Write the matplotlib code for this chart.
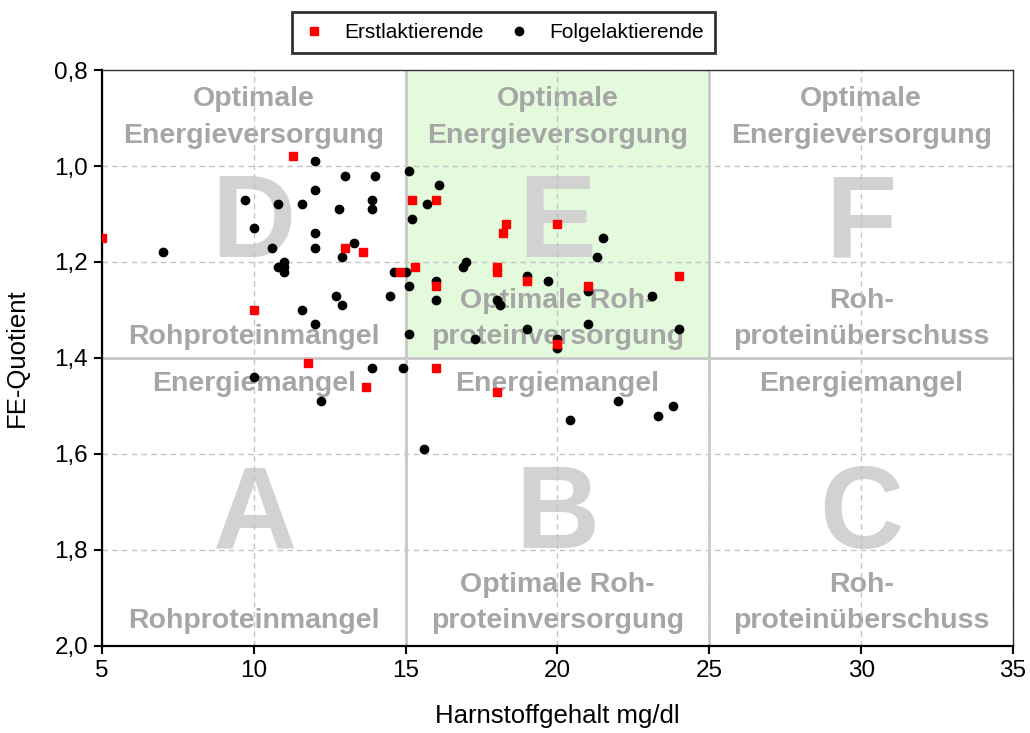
import numpy as np
import matplotlib
matplotlib.use("Agg")
import matplotlib.pyplot as plt
from matplotlib.ticker import FuncFormatter

plt.rcParams["font.family"] = ["Liberation Sans", "DejaVu Sans"]

# Erstlaktierende (rote Quadrate)
erst_harnstoff = [5, 11.3, 15.2, 16, 13, 13.6, 14.8, 15.3, 18.3, 18.2, 20, 18, 18,
                  19, 16, 21, 24, 10, 20, 11.8, 13.7, 16, 18]
erst_fe = [1.15, 0.98, 1.07, 1.07, 1.17, 1.18, 1.22, 1.21, 1.12, 1.14, 1.12, 1.21, 1.22,
           1.24, 1.25, 1.25, 1.23, 1.30, 1.37, 1.41, 1.46, 1.42, 1.47]

# Folgelaktierende (schwarze Punkte)
folge_harnstoff = [12, 13, 14, 15.1, 12, 9.7, 10.8, 11.6, 12.8, 13.9, 13.9, 15.2, 10, 12,
                   7, 10.6, 12, 13.3, 12.9, 11, 10.8, 11, 11, 14.6, 15, 15.1, 12.7, 14.5,
                   12.9, 11.6, 12, 15.1, 16.1, 15.7, 21.5, 21.3, 17, 16.9, 19, 19.7, 16,
                   21, 23.1, 18, 18.1, 16, 19, 21, 24, 17.3, 20, 20, 14.9, 13.9, 10,
                   12.2, 22, 23.8, 23.3, 20.4, 15.6]
folge_fe = [0.99, 1.02, 1.02, 1.01, 1.05, 1.07, 1.08, 1.08, 1.09, 1.07, 1.09, 1.11, 1.13, 1.14,
            1.18, 1.17, 1.17, 1.16, 1.19, 1.20, 1.21, 1.21, 1.22, 1.22, 1.22, 1.25, 1.27, 1.27,
            1.29, 1.30, 1.33, 1.35, 1.04, 1.08, 1.15, 1.19, 1.20, 1.21, 1.23, 1.24, 1.24,
            1.26, 1.27, 1.28, 1.29, 1.28, 1.34, 1.33, 1.34, 1.36, 1.36, 1.38, 1.42, 1.42, 1.44,
            1.49, 1.49, 1.50, 1.52, 1.53, 1.59]

# Felder: Buchstabe, Mitte x, obere Beschriftung, untere Beschriftung
felder_buchstabe = ["D", "E", "F", "A", "B", "C"]
felder_x = [10, 20, 30, 10, 20, 30]
felder_oben = [["Optimale", "Energieversorgung"]] * 3 + [["Energiemangel"]] * 3
felder_unten = [["Rohproteinmangel"], ["Optimale Roh-", "proteinversorgung"],
                ["Roh-", "proteinüberschuss"]] * 2

TEXT_GRAU = "#a6a6a6"
BUCHST_GRAU = "#d2d2d2"
ZEILE = 0.076  # Zeilenabstand in Datenkoordinaten


def zeilen(ax, x, y_letzte, lines):
    # letzte Zeile steht auf y_letzte (Grundlinie), die anderen darüber
    n = len(lines)
    for k, s in enumerate(lines):
        ax.text(x, y_letzte - (n - 1 - k) * ZEILE, s, ha="center", va="baseline",
                fontsize=20.5, fontweight="bold", color=TEXT_GRAU, zorder=0.3)


fig = plt.figure(figsize=(10.30, 7.33), dpi=100)
ax = fig.add_axes([0.099, 0.1187, 0.8845, 0.7858])

ax.set_xlim(5, 35)
ax.set_ylim(2.0, 0.8)

# optimaler Bereich
ax.axvspan(15, 25, ymin=0.5, ymax=1.0, color="#e3fadc", zorder=0.1, lw=0)

for i, b in enumerate(felder_buchstabe):
    x = felder_x[i]
    oben = i < 3
    ax.text(x, 1.19 if oben else 1.796, b, ha="center", va="baseline", fontsize=84,
            fontweight="bold", color=BUCHST_GRAU, zorder=0.3)
    zeilen(ax, x, 0.9515 if oben else 1.468, felder_oben[i])
    zeilen(ax, x, 1.371 if oben else 1.963, felder_unten[i])

ax.set_axisbelow(True)
ax.grid(True, color="#c4c4c4", ls=(0, (4, 3)), lw=1.0)

for xv in [15, 25]:
    ax.axvline(xv, color="#c8c8c8", lw=2, zorder=1.5)
ax.axhline(1.4, color="#c8c8c8", lw=2, zorder=1.5)

ax.plot(folge_harnstoff, folge_fe, "o", color="black", ms=6, ls="none",
        label="Folgelaktierende", zorder=3)
ax.plot(erst_harnstoff, erst_fe, "s", color="#ff0000", ms=5.6, ls="none",
        label="Erstlaktierende", zorder=4)

ax.set_xticks(np.arange(5, 36, 5))
ax.set_yticks(np.arange(0.8, 2.01, 0.2))
ax.yaxis.set_major_formatter(FuncFormatter(lambda v, p: f"{v:.1f}".replace(".", ",")))
ax.tick_params(direction="out", length=6, width=1.5, labelsize=17.5, pad=4,
               top=False, right=False)

for side in ["left", "bottom"]:
    ax.spines[side].set_linewidth(1.6)
for side in ["top", "right"]:
    ax.spines[side].set_linewidth(1.0)
    ax.spines[side].set_color("#333333")

ax.set_xlabel("Harnstoffgehalt mg/dl", fontsize=18.5, labelpad=16)
ax.set_ylabel("FE-Quotient", fontsize=18.5, labelpad=18)

h, l = ax.get_legend_handles_labels()
leg = fig.legend(h[::-1], l[::-1], loc="center", bbox_to_anchor=(0.4888, 0.9557), ncol=2,
                 fontsize=15, frameon=True, fancybox=False, edgecolor="black",
                 markerscale=1.0, handlelength=1.0, columnspacing=1.2, handletextpad=0.95,
                 borderpad=0.55, borderaxespad=0)
leg.get_frame().set_linewidth(2)

fig.savefig("out.png", dpi=100)
